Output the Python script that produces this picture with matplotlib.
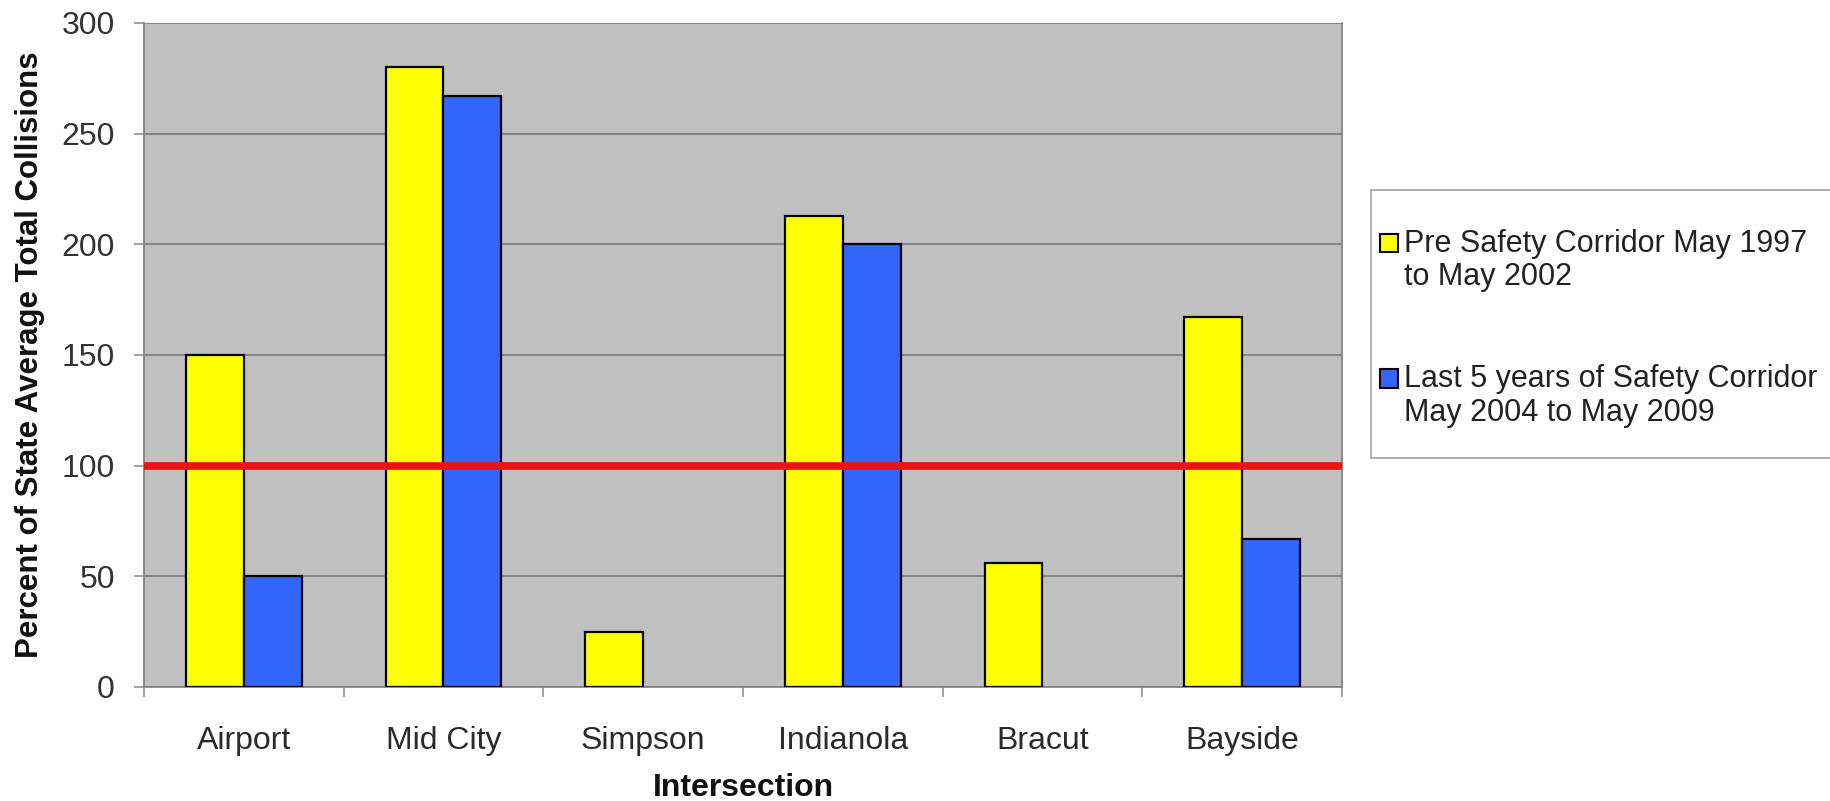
import numpy as np
import matplotlib
matplotlib.use("Agg")
import matplotlib.pyplot as plt
from matplotlib.patches import Patch, Rectangle
from matplotlib.legend_handler import HandlerPatch

plt.rcParams['font.family'] = ['Liberation Sans', 'DejaVu Sans']

intersections = ["Airport", "Mid City", "Simpson", "Indianola", "Bracut", "Bayside"]
pre_corridor = [150, 280, 25, 213, 56, 167]
last_five = [50, 267, 0, 200, 0, 67]
state_average = 100
pre_label = "Pre Safety Corridor May 1997\nto May 2002"
last_label = "Last 5 years of Safety Corridor\nMay 2004 to May 2009"


class FirstLineBox(HandlerPatch):
    # small square next to the first line of a two line label
    def create_artists(self, legend, orig_handle, xdescent, ydescent,
                       width, height, fontsize, trans):
        size = 0.6 * fontsize
        y0 = -ydescent + height / 2 - size / 2 + 0.6 * fontsize
        p = Rectangle((-xdescent, y0), size, size, transform=trans)
        self.update_prop(p, orig_handle, legend)
        p.set_transform(trans)
        return [p]


W, H = 1831, 801
fig = plt.figure(figsize=(W / 100, H / 100), dpi=100)
ax = fig.add_axes([144 / W, 1 - 687 / H, (1342 - 144) / W, (687 - 23) / H])
ax.set_facecolor("#C0C0C0")

x = np.arange(len(intersections))
w = 0.29
ax.bar(x - w / 2, pre_corridor, w, color="#FFFF00", edgecolor="black", linewidth=1.6, zorder=3)
blue_vals = np.array(last_five, dtype=float)
mask = blue_vals > 0
ax.bar(x[mask] + w / 2, blue_vals[mask], w, color="#3366FF", edgecolor="black", linewidth=1.6, zorder=3)

ax.axhline(state_average, color="#EE1111", linewidth=5.5, zorder=4)

ax.set_xlim(-0.5, len(intersections) - 0.5)
ax.set_ylim(0, 300)
ax.set_yticks(range(0, 301, 50))
ax.yaxis.grid(True, color="#858585", linewidth=1.4, zorder=0)
ax.set_axisbelow(True)

ax.set_xticks(x)
ax.set_xticklabels(intersections)
ax.set_xticks(np.arange(-0.5, len(intersections)), minor=True)
ax.tick_params(axis="x", which="major", length=0, pad=28, labelsize=23, labelcolor="#2a2a2a")
ax.tick_params(axis="x", which="minor", length=7, color="#909090", width=1.2)
ax.tick_params(axis="y", length=7, color="#909090", width=1.2, labelsize=23,
               labelcolor="#333333", pad=14)

for s in ax.spines.values():
    s.set_color("#858585")
    s.set_linewidth(1.3)
ax.spines["top"].set_visible(False)

ax.set_ylabel("Percent of State Average Total Collisions", fontsize=22.5,
              fontweight="bold", labelpad=12, color="#111111")
ax.set_xlabel("Intersection", fontsize=23, fontweight="bold", labelpad=12, color="#111111")

# legend frame, open on the right like the original
fig.patches.append(Rectangle((1371 / W, 1 - 458 / H), (1840 - 1371) / W, (458 - 190) / H,
                             transform=fig.transFigure, facecolor="white",
                             edgecolor="#AAAAAA", linewidth=1.3, zorder=1))

handles = [Patch(facecolor="#FFFF00", edgecolor="black", linewidth=1.5, label=pre_label),
           Patch(facecolor="#3366FF", edgecolor="black", linewidth=1.5, label=last_label)]
leg = fig.legend(handles=handles, loc="upper left", bbox_to_anchor=(1380 / W, 1 - 229 / H),
                 fontsize=22, frameon=False,
                 handlelength=0.6, handleheight=0.6, handletextpad=0.2,
                 labelspacing=2.35, borderpad=0, borderaxespad=0,
                 handler_map={Patch: FirstLineBox()})
leg.set_zorder(2)
for t in leg.get_texts():
    t.set_color("#222222")
    t.set_linespacing(1.15)

fig.savefig("out.png", dpi=100)
